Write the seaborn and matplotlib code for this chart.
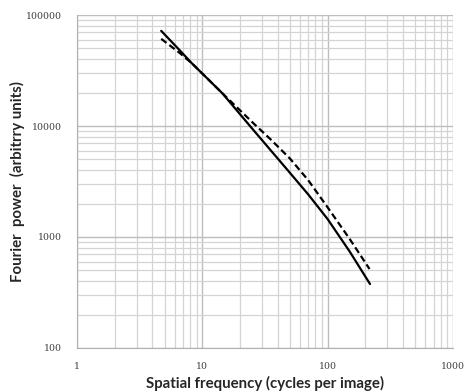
import pandas as pd
import matplotlib
matplotlib.use("Agg")
import matplotlib.pyplot as plt
import seaborn as sns

# values (log-log axes)
freq_solid = [4.7, 6.5, 8.3, 14.4, 26, 48, 70, 100, 150, 218]
power_solid = [72000, 49000, 36500, 19800, 9000, 4000, 2420, 1450, 740, 377]

freq_dashed = [4.7, 6.6, 8.3, 14.4, 26, 35, 50, 70, 100, 150, 216]
power_dashed = [61000, 45500, 36500, 19800, 10400, 7600, 5100, 3250, 1850, 960, 515]

y_ticks = [100, 1000, 10000, 100000]
x_ticks = [1, 10, 100, 1000]

sns.set_style("white")
plt.rcParams["font.family"] = ["Lato", "DejaVu Sans"]

df_solid = pd.DataFrame({"freq": freq_solid, "power": power_solid})
df_dashed = pd.DataFrame({"freq": freq_dashed, "power": power_dashed})

fig = plt.figure(figsize=(4.65, 3.91), dpi=100)
ax = fig.add_axes([0.1656, 0.110, 0.8084, 0.8516])

sns.lineplot(data=df_solid, x="freq", y="power", ax=ax, color="black",
             linewidth=1.6, sort=False)
sns.lineplot(data=df_dashed, x="freq", y="power", ax=ax, color="black",
             linewidth=1.6, sort=False)
ax.lines[1].set_linestyle((0, (3, 1.6)))

ax.set_xscale("log")
ax.set_yscale("log")
ax.set_xlim(1, 1000)
ax.set_ylim(100, 100000)

ax.set_xticks(x_ticks, [str(t) for t in x_ticks])
ax.set_yticks(y_ticks, [str(t) for t in y_ticks])

# grid like a spreadsheet chart
ax.grid(which="major", color="#bdbdbd", linewidth=1.0)
ax.grid(which="minor", color="#d4d4d4", linewidth=0.9)
ax.set_axisbelow(True)

for side in ["top", "right"]:
    ax.spines[side].set_visible(False)
for side in ["left", "bottom"]:
    ax.spines[side].set_color("#b0b0b0")

ax.tick_params(which="major", length=4, width=0.8, color="#b0b0b0",
               labelsize=6.8, labelcolor="#404040")
ax.tick_params(axis="y", which="major", pad=7)
ax.tick_params(axis="x", which="major", pad=6)
ax.tick_params(axis="x", which="minor", length=3, width=0.6, color="#c8c8c8")
ax.tick_params(axis="y", which="minor", length=0)
for lbl in ax.get_xticklabels() + ax.get_yticklabels():
    lbl.set_family("DejaVu Serif")

ax.set_xlabel("Spatial frequency (cycles per image)", fontsize=10.8,
              fontweight="bold")
ax.set_ylabel("Fourier  power  (arbitrry units)", fontsize=10.8,
              fontweight="bold")
ax.xaxis.set_label_coords(0.5, -0.085)
ax.yaxis.set_label_coords(-0.138, 0.5)

fig.savefig("out.png", dpi=100)
